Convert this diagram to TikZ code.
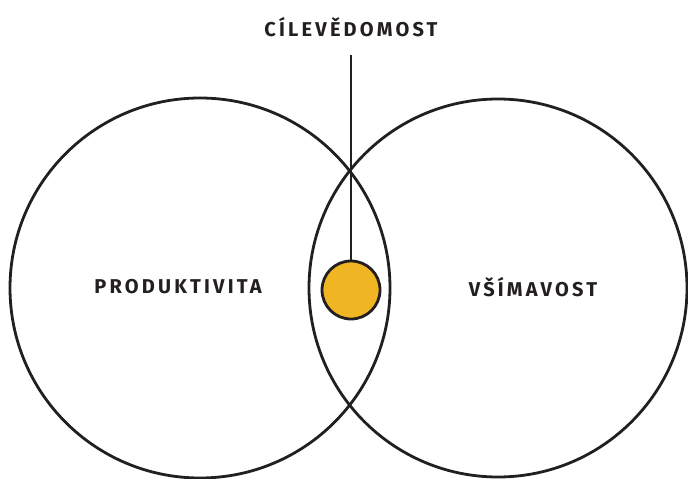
\documentclass[tikz,border=0pt]{standalone}
\usepackage{fontspec}
\newfontfamily\handfont[LetterSpace=16]{Fira Sans}
\definecolor{ink}{HTML}{231F20}
\definecolor{sun}{HTML}{EFB522}
\tikzset{
	ring/.style={draw=ink,line width=2.8pt,circle,minimum size=#1,inner sep=0pt},
	tag/.style={text=ink,font=\handfont\bfseries\fontsize{20}{20}\selectfont,inner sep=0pt}
}
\begin{document}
\begin{tikzpicture}[x=1pt,y=-1pt]
	\useasboundingbox (0,0) rectangle (688,479);
	\node[ring=380pt] at (200,288) (prod) {};
	\node[ring=378pt] at (498,288) (vsim) {};
	\node[tag] at (178,287) (p) {PRODUKTIVITA};
	\node[tag] at (533,287) (v) {VŠÍMAVOST};
	\node[tag] at (351,27) (c) {CÍLEVĚDOMOST};
	\node[ring=58pt,fill=sun] at (351,290) (dot) {};
	\coordinate (top) at (351,55);
	\draw[ink,line width=2.8pt] (top) -- (dot);
\end{tikzpicture}
\end{document}
